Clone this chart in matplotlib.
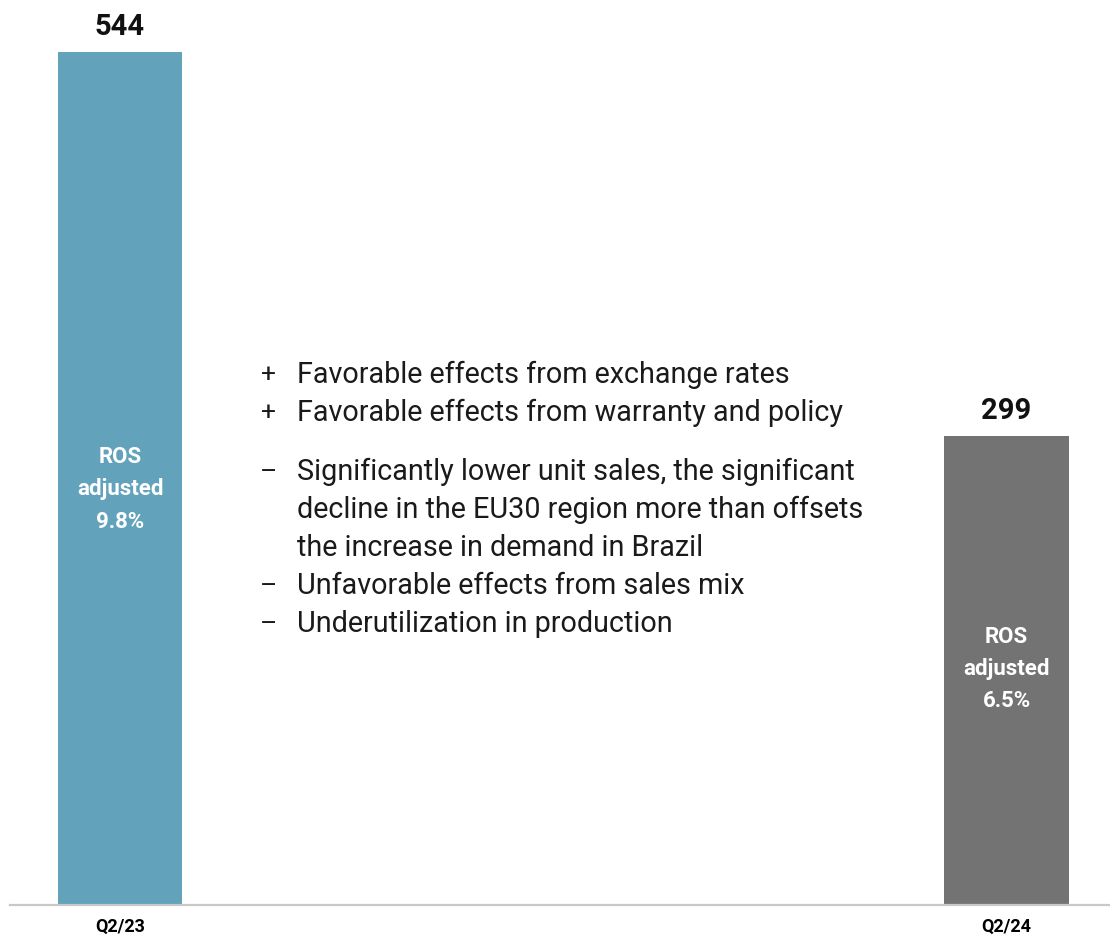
import matplotlib
matplotlib.use("Agg")
import matplotlib.pyplot as plt

# EBIT adjusted, Q2/23 vs Q2/24
quarters = ["Q2/23", "Q2/24"]
ebit_adj = [544, 299]
ros_adj = ["9.8%", "6.5%"]
bar_colors = ["#62a2bb", "#737373"]

effects = [
    ("+", ["Favorable effects from exchange rates"]),
    ("+", ["Favorable effects from warranty and policy"]),
    ("–", ["Significantly lower unit sales, the significant",
           "decline in the EU30 region more than offsets",
           "the increase in demand in Brazil"]),
    ("–", ["Unfavorable effects from sales mix"]),
    ("–", ["Underutilization in production"]),
]

W, H = 1110, 939
fig = plt.figure(figsize=(W / 100, H / 100), dpi=100)
ax = fig.add_axes([10 / W, 34 / H, 1100 / W, 905 / H])

x = range(len(quarters))
bars = ax.bar(x, ebit_adj, width=0.14, color=bar_colors, zorder=2)
ax.set_xlim(-0.1241, 1.1167)
ax.set_ylim(0, 577)

shift = [-7, 1]  # nudge the ROS text inside each bar
for b, v, r, d in zip(bars, ebit_adj, ros_adj, shift):
    cx = b.get_x() + b.get_width() / 2
    ax.annotate(str(v), (cx, v), xytext=(0, 8), textcoords="offset points",
                ha="center", va="bottom", fontsize=21, fontweight="bold",
                family="Roboto", color="#111111")
    ax.text(cx, v / 2 + d, f"ROS\nadjusted\n{r}", ha="center", va="center",
            fontsize=16, fontweight="bold", family="Roboto", color="white",
            linespacing=1.6)

for s in ["top", "right", "left"]:
    ax.spines[s].set_visible(False)
ax.spines["bottom"].set_color("#c8c8c8")
ax.spines["bottom"].set_linewidth(1.6)
ax.set_yticks([])
ax.set_xticks(list(x))
ax.set_xticklabels(quarters, fontsize=13, fontweight="bold", family="Roboto")
ax.tick_params(axis="x", length=0, pad=9)

# list of effects between the bars
y = 375
for i, (sign, lines) in enumerate(effects):
    if i == 2:
        y += 21
    fig.text(269 / W, 1 - y / H, sign, ha="center", va="center", fontsize=19,
             family="Roboto", color="#1a1a1a")
    for line in lines:
        fig.text(297 / W, 1 - y / H, line, ha="left", va="center",
                 fontsize=20.7, family="Roboto", color="#1a1a1a")
        y += 38

fig.savefig("out.png", dpi=100)
